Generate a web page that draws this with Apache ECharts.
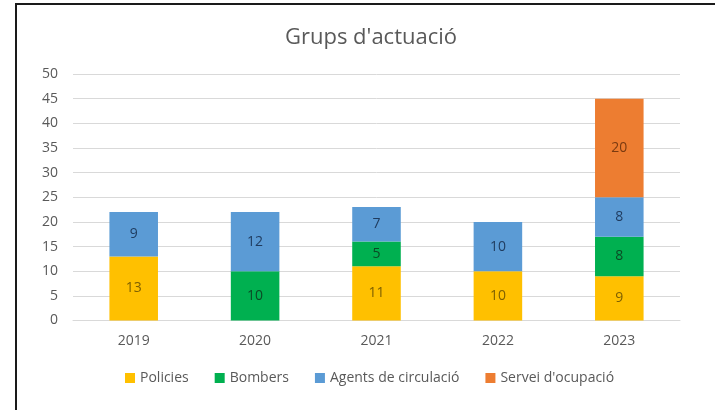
<!DOCTYPE html>
<html>
<head>
<meta charset="utf-8">
<script src="https://cdn.jsdelivr.net/npm/echarts@6/dist/echarts.min.js"></script>
<style>
html,body{margin:0;padding:0;background:#fff;}
#chart{width:715px;height:410px;}
#frame{position:absolute;left:15px;top:3px;width:700px;height:407px;border-left:2px solid #1a1a1a;border-top:2px solid #1a1a1a;pointer-events:none;}
</style>
</head>
<body>
<div id="chart"></div>
<div id="frame"></div>
<script>
const titleText = "Grups d'actuació";
const categories = ['2019', '2020', '2021', '2022', '2023'];
const seriesNames = ['Policies', 'Bombers', 'Agents de circulació', "Servei d'ocupació"];
const policies = [13, null, 11, 10, 9];
const bombers = [null, 10, 5, null, 8];
const agents = [9, 12, 7, 10, 8];
const servei = [null, null, null, null, 20];
const yTicks = [0, 5, 10, 15, 20, 25, 30, 35, 40, 45, 50];

const colors = ['#FFC000', '#00B050', '#5B9BD5', '#ED7D31'];
const labelColors = ['#7F6000', '#0B4A25', '#1F3B5E', '#7A3A10'];
const font = 'Open Sans';

const values = [policies, bombers, agents, servei];
const chart = echarts.init(document.getElementById('chart'));
chart.setOption({
  animation: false,
  backgroundColor: '#ffffff',
  textStyle: {fontFamily: font},
  title: {
    text: titleText, left: 366, textAlign: 'center', top: 22,
    textStyle: {fontFamily: font, fontSize: 22, fontWeight: 'normal', color: '#595959'}
  },
  legend: {
    data: seriesNames, bottom: 20, left: 120,
    itemWidth: 10, itemHeight: 10, itemGap: 26, icon: 'rect',
    textStyle: {fontFamily: font, fontSize: 14, color: '#595959'}
  },
  grid: {left: 73, right: 35, top: 74, bottom: 89.5},
  xAxis: {
    type: 'category', data: categories,
    axisLine: {lineStyle: {color: '#D9D9D9'}},
    axisTick: {show: false},
    axisLabel: {fontFamily: font, fontSize: 14, color: '#595959', margin: 14}
  },
  yAxis: {
    type: 'value', min: yTicks[0], max: yTicks[yTicks.length - 1], interval: 5,
    axisLine: {show: false}, axisTick: {show: false},
    splitLine: {lineStyle: {color: '#D9D9D9'}},
    axisLabel: {fontFamily: font, fontSize: 14, color: '#595959', margin: 15}
  },
  series: seriesNames.map((n, i) => ({
    name: n, type: 'bar', stack: 'total', barWidth: '40%',
    data: values[i],
    itemStyle: {color: colors[i]},
    label: {show: true, position: 'inside', fontFamily: font, fontSize: 14, color: labelColors[i]}
  }))
});
</script>
</body>
</html>
